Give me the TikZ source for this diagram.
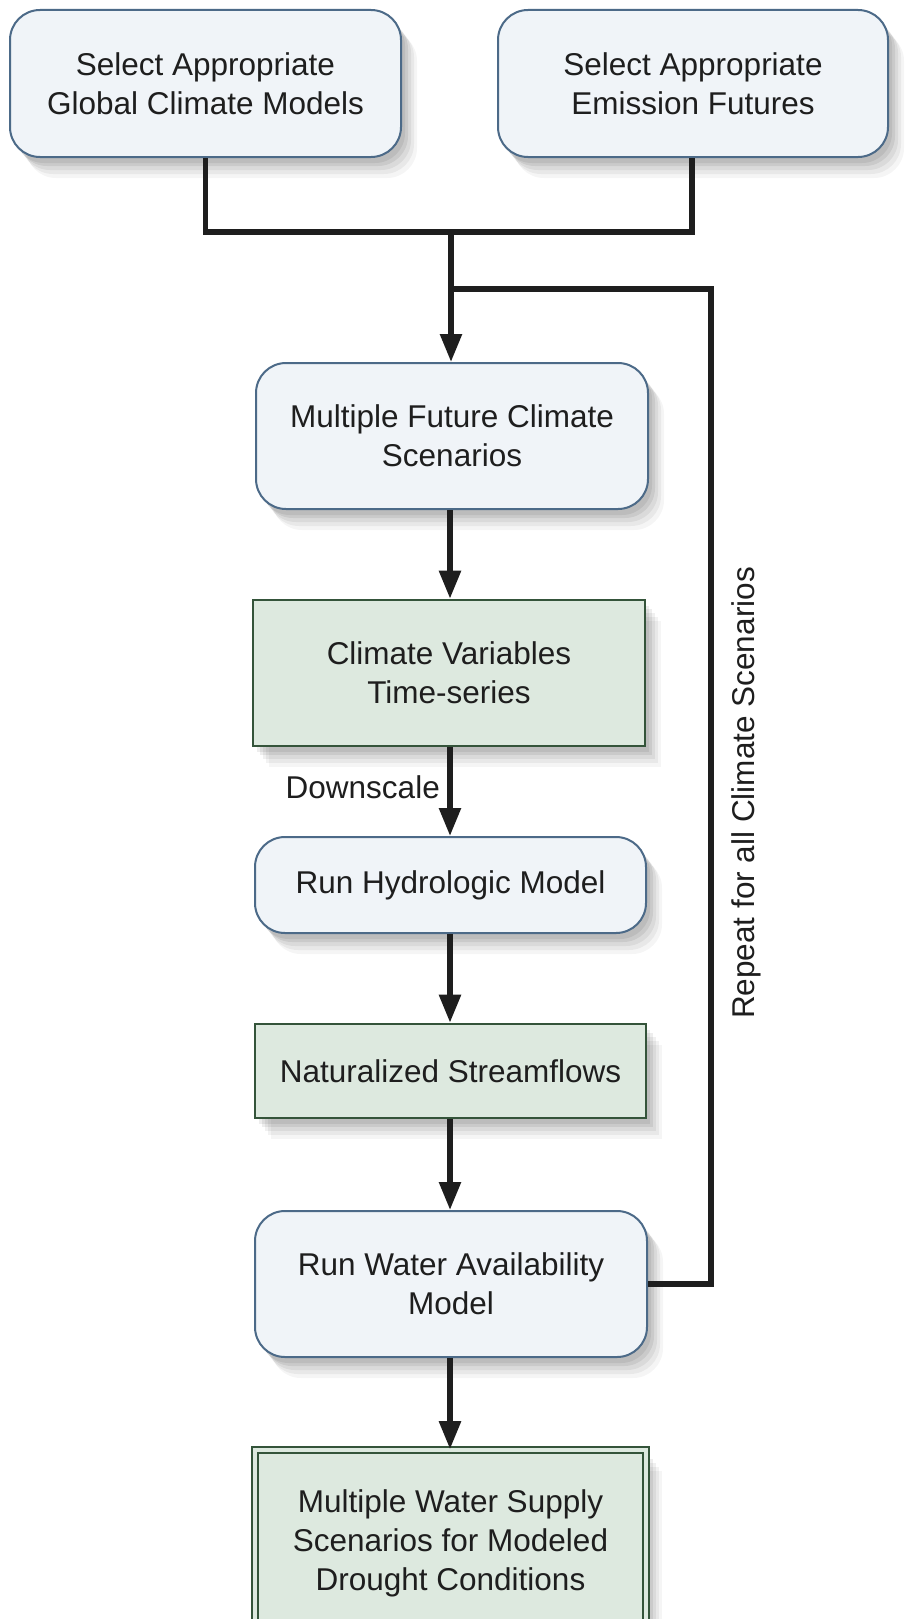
\documentclass[tikz,border=0pt]{standalone}
\usepackage{fontspec}
\setmainfont{Liberation Sans}
\usetikzlibrary{arrows.meta,shadows}
\definecolor{bfill}{HTML}{F0F4F8}
\definecolor{bdraw}{HTML}{4C6A88}
\definecolor{gfill}{HTML}{DDE9DF}
\definecolor{gdraw}{HTML}{34543A}
\definecolor{ink}{HTML}{1E1E1E}
\begin{document}
\begin{tikzpicture}[x=1pt,y=-1pt,
  font=\fontsize{31.5}{39}\selectfont, text=ink,
  softshadow/.style={
    drop shadow={shadow xshift=4pt,shadow yshift=-6pt,opacity=0.07,fill=black},
    drop shadow={shadow xshift=7pt,shadow yshift=-9pt,opacity=0.07,fill=black},
    drop shadow={shadow xshift=10pt,shadow yshift=-13pt,opacity=0.06,fill=black},
    drop shadow={shadow xshift=13pt,shadow yshift=-17pt,opacity=0.05,fill=black},
    drop shadow={shadow xshift=16pt,shadow yshift=-21pt,opacity=0.04,fill=black}},
  bluebox/.style={rectangle,rounded corners=30pt,draw=bdraw,line width=2pt,fill=bfill,align=center,inner sep=0pt,softshadow},
  greenbox/.style={rectangle,draw=gdraw,line width=2.6pt,fill=gfill,align=center,inner sep=0pt,softshadow},
  conn/.style={draw=ink,line width=5.5pt},
  arr/.style={conn,-{Triangle[length=28pt,width=21pt]}}
]
\useasboundingbox (0,0) rectangle (907,1619);
\fill[white] (0,0) rectangle (907,1619);

\node[bluebox,minimum width=391pt,minimum height=147pt] (b1) at (205.5,83.5) {Select Appropriate\\Global Climate Models};
\node[bluebox,minimum width=390pt,minimum height=147pt] (b2) at (693,83.5) {Select Appropriate\\Emission Futures};
\node[bluebox,minimum width=392pt,minimum height=146pt] (b3) at (452,436) {Multiple Future Climate\\Scenarios};
\node[greenbox,minimum width=392pt,minimum height=146pt] (b4) at (449,673) {Climate Variables\\Time-series};
\node[bluebox,minimum width=391pt,minimum height=96pt] (b5) at (450.5,885) {Run Hydrologic Model};
\node[greenbox,minimum width=391pt,minimum height=94pt] (b6) at (450.5,1071) {Naturalized Streamflows};
\node[bluebox,minimum width=392pt,minimum height=146pt] (b7) at (451,1284) {Run Water Availability\\Model};
\node[greenbox,line width=1.6pt,double=gfill,double distance=4.2pt,minimum width=391pt,minimum height=186pt] (b8) at (450.5,1543) {Multiple Water Supply\\Scenarios for Modeled\\Drought Conditions};

\coordinate (j) at (451,232);
\coordinate (lp) at (451,289);
\coordinate (rr) at (711,289);

\draw[conn] (b1.south) |- (j);
\draw[conn] (b2.south -| 692,0) |- (j);
\draw[arr] (j) -- (b3.north -| j);
\draw[conn] (b7.east) -| (rr) -- (lp);
\draw[arr] (b3.south -| 450,0) -- (b4.north -| 450,0);
\draw[arr] (b4.south -| 450,0) -- (b5.north -| 450,0);
\draw[arr] (b5.south -| 450,0) -- (b6.north -| 450,0);
\draw[arr] (b6.south -| 450,0) -- (b7.north -| 450,0);
\draw[arr] (b7.south -| 450,0) -- (b8.north -| 450,0);

\node[anchor=east,inner sep=0pt] (ds) at (440,787) {Downscale};
\node[rotate=90,inner sep=0pt] (rep) at (746,793) {Repeat for all Climate Scenarios};
\end{tikzpicture}
\end{document}
